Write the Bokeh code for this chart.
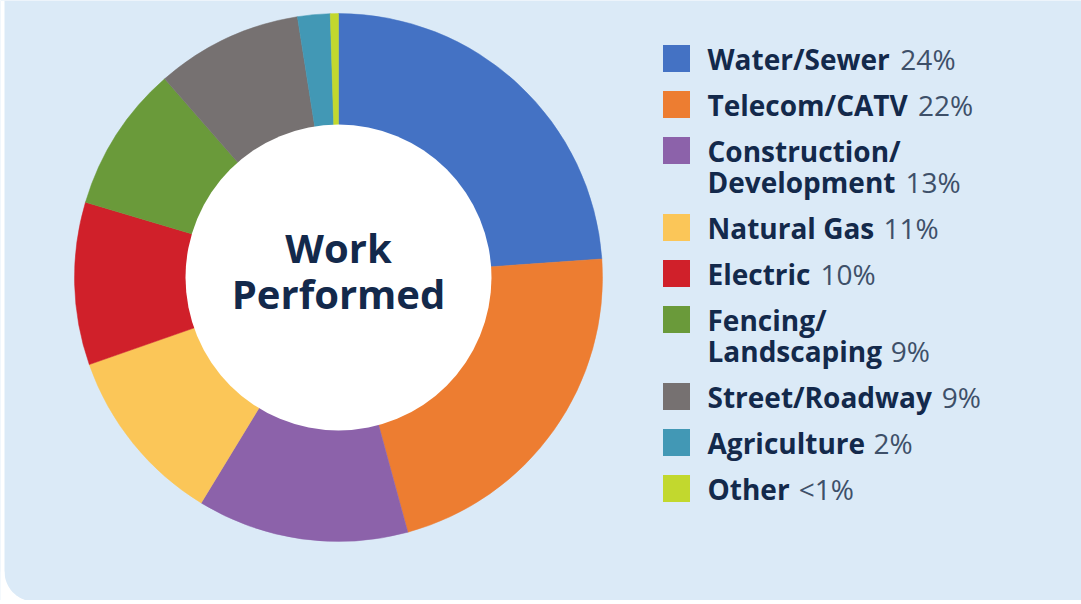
import numpy as np
from bokeh.plotting import figure
from bokeh.models import Range1d, ColumnDataSource
from bokeh.core.properties import value
from bokeh.embed import file_html
from bokeh.resources import INLINE

# ---- data ----
categories = ["Water/Sewer", "Telecom/CATV", "Construction/\nDevelopment", "Natural Gas",
              "Electric", "Fencing/\nLandscaping", "Street/Roadway", "Agriculture", "Other"]
shares = [24, 22, 13, 11, 10, 9, 9, 2, 0.5]
share_labels = ["24%", "22%", "13%", "11%", "10%", "9%", "9%", "2%", "<1%"]
colors = ["#4472c4", "#ed7d31", "#8c62aa", "#fbc658", "#d0202a",
          "#6a9a3a", "#767171", "#4298b5", "#c2d82e"]
center_title = ["Work", "Performed"]

# ---- style ----
BG = "#dbeaf7"
NAVY = "#13294b"
SLATE = "#3e5069"
FONT = "Open Sans"
W, H = 1081, 600

def px(ix, iy):
    return ix, H - iy

# approximate Open Sans Bold advance widths (em)
_w = {' ': 0.26, '/': 0.39, '%': 0.85, '<': 0.57}
for c in "ABCDEFGHIJKLMNOPQRSTUVWXYZ":
    _w[c] = 0.66
_w.update({'W': 0.96, 'T': 0.57, 'S': 0.55, 'L': 0.54, 'E': 0.55, 'F': 0.53, 'O': 0.77,
           'V': 0.64, 'N': 0.78, 'G': 0.72, 'R': 0.65, 'P': 0.63, 'D': 0.72, 'A': 0.66, 'C': 0.63})
for c in "abcdefghijklmnopqrstuvwxyz":
    _w[c] = 0.62
_w.update({'i': 0.3, 'l': 0.3, 'f': 0.38, 't': 0.41, 'r': 0.45, 'j': 0.3, 's': 0.5, 'c': 0.5,
           'm': 0.96, 'w': 0.83, 'e': 0.59, 'a': 0.59, 'g': 0.56, 'y': 0.56, 'v': 0.56})

def text_width(s, size):
    return sum(_w.get(c, 0.62) for c in s) * size * 1.02

# ---- figure ----
p = figure(width=W, height=H, x_range=Range1d(0, W), y_range=Range1d(0, H),
           output_backend="svg", toolbar_location=None, min_border=0,
           x_axis_location=None, y_axis_location=None,
           background_fill_color=BG, border_fill_color=BG, outline_line_color=None)
p.grid.visible = False

# panel edge: white strip at left and rounded bottom-left corner
p.quad(left=0, right=4, bottom=0, top=H, fill_color="white", line_color=None)
ccx, ccy = px(34, 571)
ang = np.linspace(np.pi, 1.5 * np.pi, 30)
corner_x = [0.0, 0.0] + list(ccx + 30 * np.cos(ang)) + [ccx, 0.0]
corner_y = [ccy - 30.0, ccy] + list(ccy + 30 * np.sin(ang)) + [ccy - 30.0, ccy - 30.0]
p.patch(x=corner_x, y=corner_y, fill_color="white", line_color=None)

cx, cy = px(338, 277)
R_OUT, R_IN = 264, 153

vals = np.array(shares, dtype=float)
frac = vals / vals.sum()
cum = np.cumsum(frac)
start = np.pi / 2 - 2 * np.pi * (cum - frac)
end = np.pi / 2 - 2 * np.pi * cum

src = ColumnDataSource(dict(start=start, end=end, color=colors, name=categories))
p.wedge(x=cx, y=cy, radius=R_OUT, start_angle="start", end_angle="end",
        direction="clock", fill_color="color", line_color="color", line_width=0.5, source=src)
p.circle(x=cx, y=cy, radius=R_IN, fill_color="white", line_color=None)

# center title
p.text(x=[cx, cx], y=[cy + 30, cy - 16], text=center_title,
       text_font=value(FONT), text_font_style="bold", text_font_size="40px",
       text_align="center", text_baseline="middle", text_color=NAVY)

# ---- legend ----
LX, LY0 = px(676, 58)
TX = LX + 31
ROW, LINE = 46, 31
FS = 28
sq_x, sq_y, name_x, name_y, name_t, pct_x, pct_y = [], [], [], [], [], [], []
y = LY0
for name, lab in zip(categories, share_labels):
    lines = name.split("\n")
    sq_x.append(LX); sq_y.append(y)
    for k, ln in enumerate(lines):
        name_x.append(TX); name_y.append(y - k * LINE); name_t.append(ln)
    last = lines[-1]
    pct_x.append(TX + text_width(last, FS) + 0.36 * FS)
    pct_y.append(y - (len(lines) - 1) * LINE)
    y -= ROW + (len(lines) - 1) * LINE

p.rect(x=sq_x, y=sq_y, width=27, height=27, fill_color=colors, line_color=None)
p.text(x=name_x, y=name_y, text=name_t, text_font=value(FONT), text_font_style="bold",
       text_font_size=f"{FS}px", text_baseline="middle", text_align="left", text_color=NAVY)
p.text(x=pct_x, y=pct_y, text=share_labels, text_font=value(FONT), text_font_style="normal",
       text_font_size=f"{FS}px", text_baseline="middle", text_align="left", text_color=SLATE)

html = file_html(p, INLINE, title="Work Performed")
html = html.replace("</head>",
                    "<style>html,body{background:#ffffff !important;overflow:hidden;}</style></head>", 1)
open("out.html", "w").write(html)
